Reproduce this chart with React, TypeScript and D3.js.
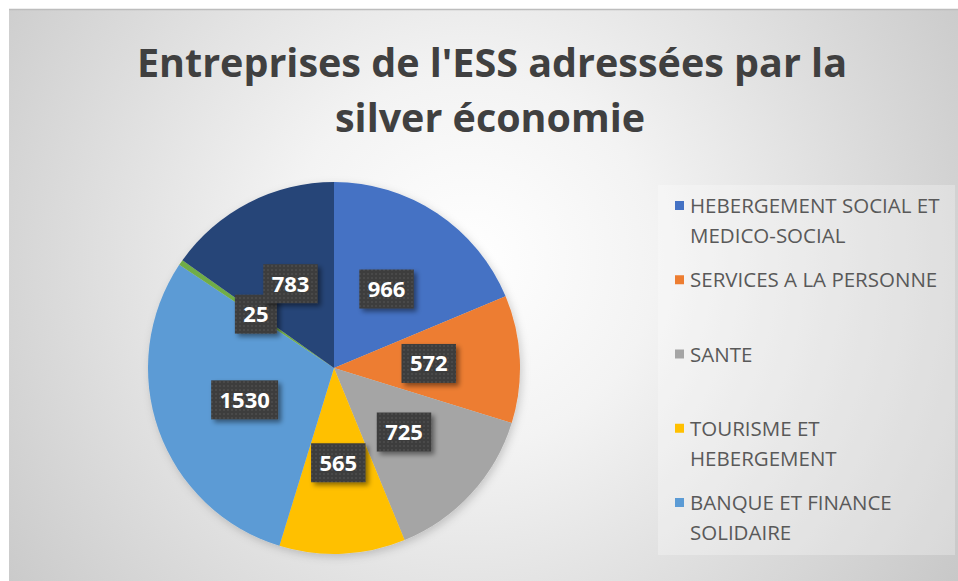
import React from "react";
import * as d3 from "d3";

const titleLines = ["Entreprises de l'ESS adressées par la", "silver économie"];
const values = [966, 572, 725, 565, 1530, 25, 783];
const colors = ["#4472C4", "#ED7D31", "#A5A5A5", "#FFC000", "#5B9BD5", "#70AD47", "#264478"];
const legendLabels = [
  ["HEBERGEMENT SOCIAL ET", "MEDICO-SOCIAL"],
  ["SERVICES A LA PERSONNE"],
  ["SANTE"],
  ["TOURISME ET", "HEBERGEMENT"],
  ["BANQUE ET FINANCE", "SOLIDAIRE"],
];

const W = 958;
const H = 581;
const cx = 334;
const cy = 368;
const R = 186;

export default function App() {
  const pie = d3.pie<number>().sort(null).value((d) => d).startAngle(0).endAngle(2 * Math.PI);
  const arcs = pie(values);
  const arcGen = d3.arc<d3.PieArcDatum<number>>().innerRadius(0).outerRadius(R);
  const labelArc = d3.arc<d3.PieArcDatum<number>>().innerRadius(R * 0.51).outerRadius(R * 0.51);

  const legendY = d3.scaleLinear().domain([0, 4]).range([213, 510]);

  return (
    <svg width={W} height={H} style={{ position: "absolute", left: 0, top: 0 }}>
      <defs>
        <radialGradient id="bg" gradientUnits="userSpaceOnUse" cx={470} cy={260} r={620}>
          <stop offset="0" stopColor="#ffffff" />
          <stop offset="0.3" stopColor="#f3f3f3" />
          <stop offset="1" stopColor="#c4c4c4" />
        </radialGradient>
        <pattern id="dots" width="4" height="4" patternUnits="userSpaceOnUse">
          <rect width="4" height="4" fill="#3d3d3d" />
          <circle cx="2" cy="2" r="0.8" fill="#5a5a5a" />
        </pattern>
        <filter id="boxShadow" x="-30%" y="-30%" width="160%" height="160%">
          <feDropShadow dx="3" dy="3" stdDeviation="2.5" floodColor="#000" floodOpacity="0.45" />
        </filter>
        <filter id="pieShadow" x="-20%" y="-20%" width="140%" height="140%">
          <feDropShadow dx="2" dy="3" stdDeviation="4" floodColor="#000" floodOpacity="0.18" />
        </filter>
      </defs>
      <rect x={0} y={0} width={W} height={H} fill="#ffffff" />
      <rect x={9} y={9} width={W - 9} height={H - 9} fill="url(#bg)" />
      <line x1={9} x2={W} y1={9.5} y2={9.5} stroke="#bdbdbd" strokeWidth={1.5} />

      {/* Title */}
      <g fill="#404040" fontFamily="'Open Sans', sans-serif" fontWeight={700} fontSize={40} textAnchor="middle">
        <text x={492} y={77} textLength={710} lengthAdjust="spacingAndGlyphs">{titleLines[0]}</text>
        <text x={490} y={132} textLength={310} lengthAdjust="spacingAndGlyphs">{titleLines[1]}</text>
      </g>

      {/* Pie */}
      <g transform={`translate(${cx},${cy})`} filter="url(#pieShadow)">
        {arcs.map((a, i) => (
          <path key={i} d={arcGen(a) || ""} fill={colors[i]} />
        ))}
      </g>

      {/* Data labels */}
      <g transform={`translate(${cx},${cy})`}>
        {arcs.map((a, i) => {
          const [lx, ly] = labelArc.centroid(a);
          const txt = String(values[i]);
          const bw = txt.length * 12.5 + 17;
          const bh = 39;
          return (
            <g key={i}>
              <rect x={lx - bw / 2} y={ly - bh / 2} width={bw} height={bh} fill="url(#dots)" filter="url(#boxShadow)" />
              <text
                x={lx}
                y={ly + 7.8}
                textAnchor="middle"
                fill="#ffffff"
                fontFamily="'Open Sans', sans-serif"
                fontWeight={700}
                fontSize={22}
              >
                {txt}
              </text>
            </g>
          );
        })}
      </g>

      {/* Legend */}
      <rect x={658} y={185} width={297} height={370} fill="#ffffff" fillOpacity={0.28} />
      <g fontFamily="'Open Sans', sans-serif" fontSize={20.5} fill="#595959">
        {legendLabels.map((lines, i) => {
          const y0 = legendY(i);
          return (
            <g key={i}>
              <rect x={675} y={y0 - 12} width={9} height={9} fill={colors[i]} />
              {lines.map((ln, j) => (
                <text key={j} x={690} y={y0 + j * 30}>
                  {ln}
                </text>
              ))}
            </g>
          );
        })}
      </g>
    </svg>
  );
}
